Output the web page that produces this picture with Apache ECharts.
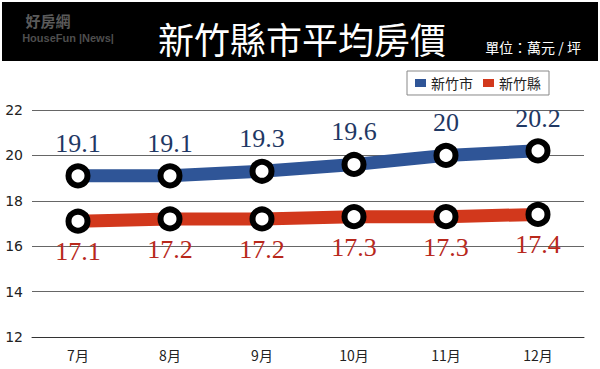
<!DOCTYPE html>
<html><head><meta charset="utf-8">
<script src="https://cdn.jsdelivr.net/npm/echarts@6/dist/echarts.min.js"></script>
<style>html,body{margin:0;padding:0;background:#fff}#c{width:600px;height:369px}</style>
</head><body><div id="c"></div>
<script>
const months = ['7月','8月','9月','10月','11月','12月'];
const cityName = '新竹市';
const countyName = '新竹縣';
const cityValues = [19.1, 19.1, 19.3, 19.6, 20, 20.2];
const countyValues = [17.1, 17.2, 17.2, 17.3, 17.3, 17.4];
const yTicks = [12, 14, 16, 18, 20, 22];
const titleText = '新竹縣市平均房價';
const unitText = '單位：萬元 / 坪';

const chart = echarts.init(document.getElementById('c'), null, {renderer: 'svg'});
const cjk = '"Noto Sans CJK TC", "Noto Sans CJK SC", sans-serif';
const blue = '#2f5597', red = '#d2381c';
chart.setOption({
  animation: false,
  graphic: [
    {type: 'rect', shape: {x: 2, y: 2, width: 596, height: 59}, style: {fill: '#000'}, z: 0},
    {type: 'text', x: 48, y: 20, style: {text: '好房網', fill: '#5a5a5a', font: 'bold 15px ' + cjk, align: 'center', verticalAlign: 'middle', lineHeight: 15}},
    {type: 'text', x: 68, y: 38, style: {text: 'HouseFun |News|', fill: '#4e4e4e', font: 'bold 11px "Liberation Sans", Arial, sans-serif', align: 'center', verticalAlign: 'middle', lineHeight: 11}},
    {type: 'text', x: 302, y: 38, style: {text: titleText, fill: '#fff', font: '36px ' + cjk, align: 'center', verticalAlign: 'middle'}},
    {type: 'text', x: 533, y: 47, style: {text: unitText, fill: '#fff', font: '14px ' + cjk, align: 'center', verticalAlign: 'middle'}}
  ],
  legend: {
    right: 51, top: 71,
    data: [
      {name: cityName, itemStyle: {color: blue, borderWidth: 0}},
      {name: countyName, itemStyle: {color: red, borderWidth: 0}}
    ],
    icon: 'rect', itemWidth: 11, itemHeight: 8, itemGap: 10,
    borderColor: '#888', borderWidth: 1, padding: [5, 8, 5, 8],
    textStyle: {fontFamily: cjk, fontSize: 14, color: '#222'}
  },
  grid: {left: 32, right: 16, top: 110, bottom: 32},
  xAxis: {
    type: 'category', data: months, boundaryGap: true,
    axisLine: {show: true, lineStyle: {color: '#333', width: 1}},
    axisTick: {show: false},
    axisLabel: {margin: 11, fontSize: 14, color: '#222', fontFamily: cjk}
  },
  yAxis: {
    type: 'value', min: yTicks[0], max: yTicks[yTicks.length - 1], interval: 2,
    axisLine: {show: false}, axisTick: {show: false},
    splitLine: {lineStyle: {color: '#666', width: 1}},
    axisLabel: {margin: 9, fontSize: 14, color: '#222', fontFamily: '"DejaVu Sans", sans-serif'}
  },
  series: [
    {
      name: cityName, type: 'line', data: cityValues,
      symbol: 'circle', symbolSize: 19,
      lineStyle: {color: blue, width: 13},
      itemStyle: {color: '#fff', borderColor: '#000', borderWidth: 6},
      label: {show: true, position: 'top', distance: 7, fontFamily: '"Liberation Serif", serif', fontSize: 26, color: '#1f3864'}
    },
    {
      name: countyName, type: 'line', data: countyValues,
      symbol: 'circle', symbolSize: 19,
      lineStyle: {color: red, width: 13},
      itemStyle: {color: '#fff', borderColor: '#000', borderWidth: 6},
      label: {show: true, position: 'bottom', distance: 5, fontFamily: '"Liberation Serif", serif', fontSize: 26, color: '#b8281b'}
    }
  ]
});
</script></body></html>
